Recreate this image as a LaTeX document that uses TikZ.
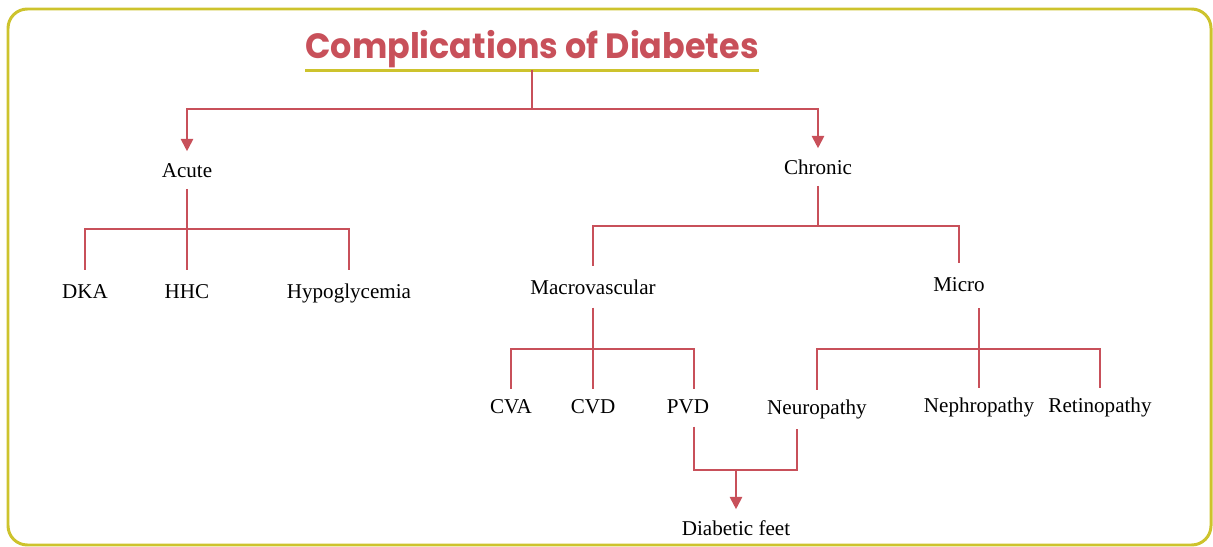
\documentclass[tikz,border=0pt]{standalone}
\usepackage{fontspec}
\setmainfont{Liberation Serif}
\newfontfamily\titlefont{Poppins}
\usetikzlibrary{arrows.meta}

\definecolor{treered}{RGB}{200,80,90}
\definecolor{frameyellow}{RGB}{205,195,45}

\begin{document}
\begin{tikzpicture}[x=0.02cm,y=-0.02cm]
	\tikzset{lbl/.style={inner sep=0pt, text height=10pt, text depth=1pt, font=\fontsize{12}{14}\selectfont},
		link/.style={draw=treered, line width=1.1pt},
		arrow/.style={link, -{Triangle[width=7pt,length=7pt]}, shorten >=5pt}};
	\useasboundingbox (0,0) rectangle (1213,547);
	\draw[frameyellow, line width=1.7pt, rounded corners=11pt] (8,9) rectangle (1211,545);
	% title
	\node[inner sep=0pt, text=treered, font=\titlefont\bfseries\fontsize{20}{24}\selectfont] (title) at (532,49) {\scalebox{0.95}[1]{Complications of Diabetes}};
	\draw[frameyellow, line width=1.7pt] ([yshift=-1.2pt]title.south west) -- ([yshift=-1.2pt]title.south east);
	% labels
	\node[lbl] (acute) at ( 187,170) {Acute};
	\node[lbl] (chronic) at ( 818,167) {Chronic};
	\node[lbl] (dka) at (  85,291) {DKA};
	\node[lbl] (hhc) at ( 187,291) {HHC};
	\node[lbl] (hypo) at ( 349,291) {Hypoglycemia};
	\node[lbl] (macro) at ( 593,287) {Macrovascular};
	\node[lbl] (micro) at ( 959,284) {Micro};
	\node[lbl] (cva) at ( 511,406) {CVA};
	\node[lbl] (cvd) at ( 593,406) {CVD};
	\node[lbl] (pvd) at ( 688,406) {PVD};
	\node[lbl] (neuro) at ( 817,407) {Neuropathy};
	\node[lbl] (nephro) at ( 979,405) {Nephropathy};
	\node[lbl] (retino) at (1100,405) {Retinopathy};
	\node[lbl] (feet) at ( 736,528) {Diabetic feet};
	% junctions
	\coordinate (tj) at (532,109);
	\coordinate (aj) at (187,229);
	\coordinate (cj) at (818,226);
	\coordinate (mj) at (593,349);
	\coordinate (nj) at (979,349);
	\coordinate (fj) at (736,470);
	% connectors
	\draw[link, shorten <=1pt] (title.south) -- (tj);
	\draw[arrow] (tj) -| (acute.north);
	\draw[arrow] (tj) -| (chronic.north);
	\draw[link, shorten <=5pt] (acute.south) -- (aj);
	\draw[link, shorten >=6pt] (aj) -| (dka.north);
	\draw[link, shorten >=6pt] (aj) -- (hhc.north);
	\draw[link, shorten >=6pt] (aj) -| (hypo.north);
	\draw[link, shorten <=5pt] (chronic.south) -- (cj);
	\draw[link, shorten >=6pt] (cj) -| (macro.north);
	\draw[link, shorten >=6pt] (cj) -| (micro.north);
	\draw[link, shorten <=6pt] (macro.south) -- (mj);
	\draw[link, shorten >=4pt] (mj) -| (cva.north);
	\draw[link, shorten >=4pt] (mj) -- (cvd.north);
	\draw[link, shorten >=4pt] (mj) -| ([xshift=3.4pt]pvd.north);
	\draw[link, shorten <=8pt] (micro.south -| nj) -- (nj);
	\draw[link, shorten >=4pt] (nj) -| (neuro.north);
	\draw[link, shorten >=4pt] (nj) -- (nephro.north);
	\draw[link, shorten >=4pt] (nj) -| (retino.north);
	\draw[link, shorten <=6pt] ([xshift=3.4pt]pvd.south) |- (fj);
	\draw[link, shorten <=7pt] ([xshift=-11.3pt]neuro.south) |- (fj);
	\draw[arrow] (fj) -- (feet.north);
\end{tikzpicture}
\end{document}
